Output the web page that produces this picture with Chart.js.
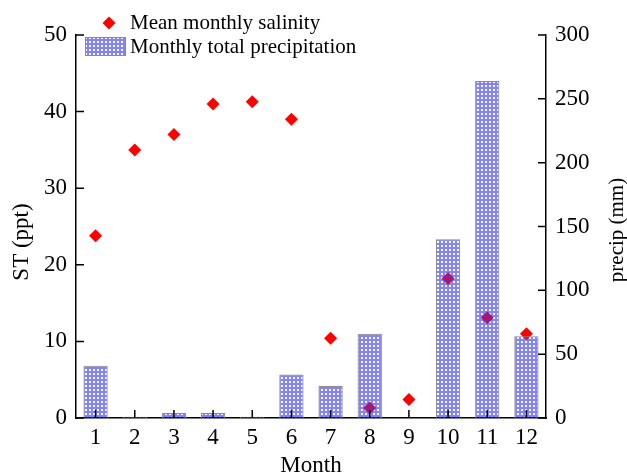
<!DOCTYPE html>
<html>
<head>
<meta charset="utf-8">
<script src="https://cdn.jsdelivr.net/npm/chart.js@4/dist/chart.umd.min.js"></script>
<style>
  html, body { margin: 0; padding: 0; background: #fff; }
  #wrap { width: 627px; height: 476px; }
</style>
</head>
<body>
<div id="wrap"><canvas id="salChart" width="627" height="476"></canvas></div>
<script>
// data
const months = ['1', '2', '3', '4', '5', '6', '7', '8', '9', '10', '11', '12'];
const salinity = [23.8, 35.0, 37.0, 41.0, 41.3, 39.0, 10.4, 1.3, 2.4, 18.2, 13.1, 11.0];
const precip = [41, 1, 4, 4, 1, 34, 25, 66, 0, 140, 264, 64];
const salTicks = [0, 10, 20, 30, 40, 50];
const precipTicks = [0, 50, 100, 150, 200, 250, 300];
const leftTitle = 'ST (ppt)';
const rightTitle = 'precip (mm)';

const serif = '"Liberation Serif", "Times New Roman", serif';

// blue grid fill with see-through holes, like the original bars
function makeHatch() {
    const c = document.createElement('canvas');
    c.width = 4;
    c.height = 4;
    const g = c.getContext('2d');
    g.fillStyle = 'rgba(55, 55, 255, 0.62)';
    for (let x = 0; x < 4; x++) {
        for (let y = 0; y < 4; y++) {
            const hole = (x === 1 || x === 2) && (y === 1 || y === 2);
            if (!hole) g.fillRect(x, y, 1, 1);
        }
    }
    return g.createPattern(c, 'repeat');
}
const hatch = makeHatch();

// ticks pointing into the plot, as in the original figure
const inwardTicks = {
    id: 'inwardTicks',
    afterDraw(chart) {
        const ctx = chart.ctx;
        const area = chart.chartArea;
        ctx.save();
        ctx.strokeStyle = '#000';
        ctx.lineWidth = 1.5;
        ctx.beginPath();
        const x = chart.scales.x;
        x.ticks.forEach((t, i) => {
            const px = x.getPixelForTick(i);
            ctx.moveTo(px, area.bottom);
            ctx.lineTo(px, area.bottom - 8);
        });
        const yl = chart.scales.y;
        yl.ticks.forEach(t => {
            const py = yl.getPixelForValue(t.value);
            ctx.moveTo(area.left, py);
            ctx.lineTo(area.left + 8, py);
        });
        const yr = chart.scales.y2;
        yr.ticks.forEach(t => {
            const py = yr.getPixelForValue(t.value);
            ctx.moveTo(area.right, py);
            ctx.lineTo(area.right - 8, py);
        });
        ctx.stroke();

        // both y titles read bottom-to-top
        ctx.fillStyle = '#000';
        ctx.textAlign = 'center';
        ctx.textBaseline = 'middle';
        ctx.font = '23px ' + serif;
        ctx.translate(22, 242);
        ctx.rotate(-Math.PI / 2);
        ctx.fillText(leftTitle, 0, 0);
        ctx.setTransform(1, 0, 0, 1, 0, 0);
        ctx.font = '21px ' + serif;
        ctx.translate(617, 230);
        ctx.rotate(-Math.PI / 2);
        ctx.fillText(rightTitle, 0, 0);
        ctx.restore();
    }
};

// legend sits inside the top-left of the plot
const innerLegend = {
    id: 'innerLegend',
    afterDraw(chart) {
        const ctx = chart.ctx;
        const sal = chart.data.datasets[1];
        const pre = chart.data.datasets[0];
        ctx.save();
        ctx.font = '21px ' + serif;
        ctx.textBaseline = 'middle';
        ctx.textAlign = 'left';

        ctx.fillStyle = sal.backgroundColor;
        ctx.beginPath();
        ctx.moveTo(109, 23 - 6.5);
        ctx.lineTo(109 + 6.5, 23);
        ctx.lineTo(109, 23 + 6.5);
        ctx.lineTo(109 - 6.5, 23);
        ctx.closePath();
        ctx.fill();
        ctx.fillStyle = '#000';
        ctx.fillText(sal.label, 130, 23);

        ctx.fillStyle = '#fff';
        ctx.fillRect(85, 37, 41, 19);
        ctx.fillStyle = hatch;
        ctx.fillRect(85, 37, 41, 19);
        ctx.strokeStyle = pre.borderColor;
        ctx.lineWidth = 1;
        ctx.strokeRect(85.5, 37.5, 40, 18);
        ctx.fillStyle = '#000';
        ctx.fillText(pre.label, 130, 47);
        ctx.restore();
    }
};

const config = {
    data: {
        labels: months,
        datasets: [{
            type: 'bar',
            label: 'Monthly total precipitation',
            data: precip,
            yAxisID: 'y2',
            backgroundColor: hatch,
            borderColor: '#8a8a8a',
            borderWidth: 1,
            barPercentage: 0.62,
            categoryPercentage: 1,
            order: 1
        }, {
            type: 'line',
            label: 'Mean monthly salinity',
            data: salinity,
            yAxisID: 'y',
            showLine: false,
            pointStyle: 'rectRot',
            pointRadius: 6.5,
            pointBackgroundColor: '#ff0000',
            pointBorderWidth: 0,
            backgroundColor: '#ff0000',
            borderColor: '#ff0000',
            order: 2
        }]
    },
    options: {
        responsive: false,
        animation: false,
        layout: { padding: { top: 35, left: 0, right: 0, bottom: 0 } },
        plugins: {
            legend: { display: false },
            tooltip: { enabled: false }
        },
        scales: {
            x: {
                type: 'category',
                offset: true,
                grid: { display: false, drawTicks: false },
                border: { display: true, color: '#000', width: 1.5 },
                ticks: { color: '#000', font: { family: serif, size: 23 }, padding: 6, maxRotation: 0 },
                title: {
                    display: true, text: 'Month', color: '#000',
                    font: { family: serif, size: 23, lineHeight: 0.9 }, padding: 0
                },
                afterFit(scale) { scale.height = 58; }
            },
            y: {
                position: 'left',
                min: 0,
                max: 50,
                afterBuildTicks(scale) { scale.ticks = salTicks.map(v => ({ value: v })); },
                grid: { display: false, drawTicks: false },
                border: { display: true, color: '#000', width: 1.5 },
                ticks: { color: '#000', font: { family: serif, size: 23 }, padding: 9 },
                afterFit(scale) { scale.width = 76; }
            },
            y2: {
                position: 'right',
                min: 0,
                max: 300,
                afterBuildTicks(scale) { scale.ticks = precipTicks.map(v => ({ value: v })); },
                grid: { display: false, drawTicks: false },
                border: { display: true, color: '#000', width: 1.5 },
                ticks: { color: '#000', font: { family: serif, size: 23 }, padding: 9 },
                afterFit(scale) { scale.width = 81; }
            }
        }
    },
    plugins: [inwardTicks, innerLegend]
};

new Chart(document.getElementById('salChart'), config);
</script>
</body>
</html>
